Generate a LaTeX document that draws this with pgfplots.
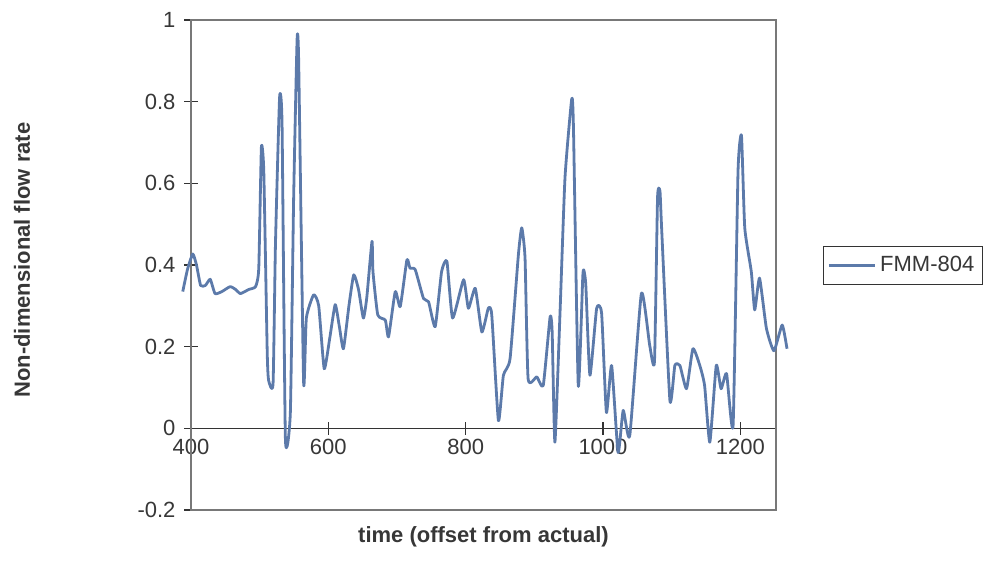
\documentclass[border=0pt]{standalone}
\usepackage{pgfplots}
\pgfplotsset{compat=1.18}
\usepackage{fontspec}
\setmainfont{Liberation Sans}
\definecolor{flow}{RGB}{92,122,170}
\definecolor{txt}{RGB}{55,55,55}
\definecolor{frame}{RGB}{120,120,120}
\begin{document}
\begin{tikzpicture}
\path[use as bounding box] (-95.5pt,-26.5pt) rectangle (396pt,255pt);
\begin{axis}[
  at={(0pt,0pt)}, anchor=south west,
  scale only axis, width=292.5pt, height=245pt,
  xmin=400, xmax=1252, ymin=-0.2, ymax=1,
  clip=false,
  axis x line*=middle, axis y line*=left,
  hide obscured x ticks=false, hide obscured y ticks=false,
  axis line style={-, black!80, line width=0.6pt},
  xtick={400,600,800,1000,1200},
  ytick={-0.2,0,0.2,0.4,0.6,0.8,1},
  tick align=center, major tick length=6.5pt,
  tick style={black!80, line width=0.6pt},
  /pgf/number format/assume math mode=true,
  /pgf/number format/1000 sep={},
  /pgf/number format/fixed, /pgf/number format/precision=1,
  xticklabel style={font=\fontsize{11}{13}\selectfont, text=txt, yshift=1.5pt},
  yticklabel style={font=\fontsize{11}{13}\selectfont, text=txt, xshift=-1pt},
  legend style={at={(rel axis cs:1.080,0.539)}, anchor=north west, draw=black!80, line width=0.6pt,
    font=\fontsize{11}{13}\selectfont, text=txt, inner xsep=2pt, inner ysep=3pt},
  legend image code/.code={\draw[#1] (0pt,0pt) -- (23pt,0pt);},
]
\draw[frame, line width=0.6pt] (rel axis cs:0,0) rectangle (rel axis cs:1,1);
\addplot[flow, line width=1.4pt, line join=round, smooth, tension=0.3] coordinates {
(388,0.335) (395,0.39) (402.6,0.427) (408,0.40) (414,0.35) (421,0.35) (428,0.365)
(435,0.33) (445,0.335) (457,0.347) (465,0.34) (472,0.33) (484,0.34) (494,0.347)
(498.7,0.392) (502.5,0.688) (506,0.63) (511,0.187) (513,0.118) (519.5,0.109)
(523,0.45) (529,0.81) (532.6,0.746) (537.5,-0.026) (544.7,0.039) (549.5,0.565)
(554.5,0.952) (556.8,0.90) (564,0.113) (568,0.27) (578.6,0.327) (586,0.30)
(594,0.146) (602,0.22) (610,0.303) (616,0.25) (622,0.195) (630,0.30) (637,0.376)
(644,0.34) (651,0.27) (656,0.32) (663.6,0.458) (665,0.384) (672,0.278) (683,0.265)
(687.7,0.224) (697.5,0.335) (704.7,0.298) (714.5,0.413) (719,0.392) (726.5,0.389)
(738.6,0.318) (746,0.31) (755.6,0.249) (765,0.384) (772.7,0.409) (781,0.27)
(797,0.364) (804,0.294) (814,0.343) (823.6,0.236) (833,0.294) (838,0.278)
(847.7,0.019) (855,0.13) (864.7,0.171) (876.8,0.425) (881.7,0.491) (886.5,0.417)
(891,0.121) (903.6,0.126) (913,0.105) (923,0.273) (926,0.236) (930,-0.034)
(937.5,0.286) (944.7,0.614) (954.5,0.807) (957,0.737) (964,0.105) (970.5,0.368)
(972,0.388) (975,0.351) (981,0.13) (990.8,0.294) (998,0.282) (1005,0.039)
(1012.6,0.154) (1022,-0.059) (1029.5,0.044) (1039,-0.018) (1056,0.331) (1068,0.204)
(1075,0.163) (1079.5,0.565) (1083,0.581) (1085.4,0.491) (1097.5,0.068) (1104.7,0.154)
(1112,0.154) (1121.7,0.097) (1131,0.195) (1141,0.154) (1148,0.105) (1155.6,-0.034)
(1165,0.154) (1172,0.097) (1180,0.134) (1189.5,0.007) (1196.7,0.63) (1201.7,0.717)
(1206.5,0.491) (1216,0.384) (1221,0.29) (1228,0.368) (1238,0.245) (1249,0.19)
(1261,0.253) (1268,0.195)
};
\addlegendentry{FMM-804}
\node[font=\bfseries\fontsize{11}{13}\selectfont, text=txt, anchor=center] at ([yshift=-13.5pt]rel axis cs:0.5,0) {time (offset from actual)};
\node[font=\bfseries\fontsize{11}{13}\selectfont, text=txt, rotate=90, anchor=center] at ([xshift=-84.5pt]rel axis cs:0,0.51) {Non-dimensional flow rate};
\end{axis}
\end{tikzpicture}
\end{document}
